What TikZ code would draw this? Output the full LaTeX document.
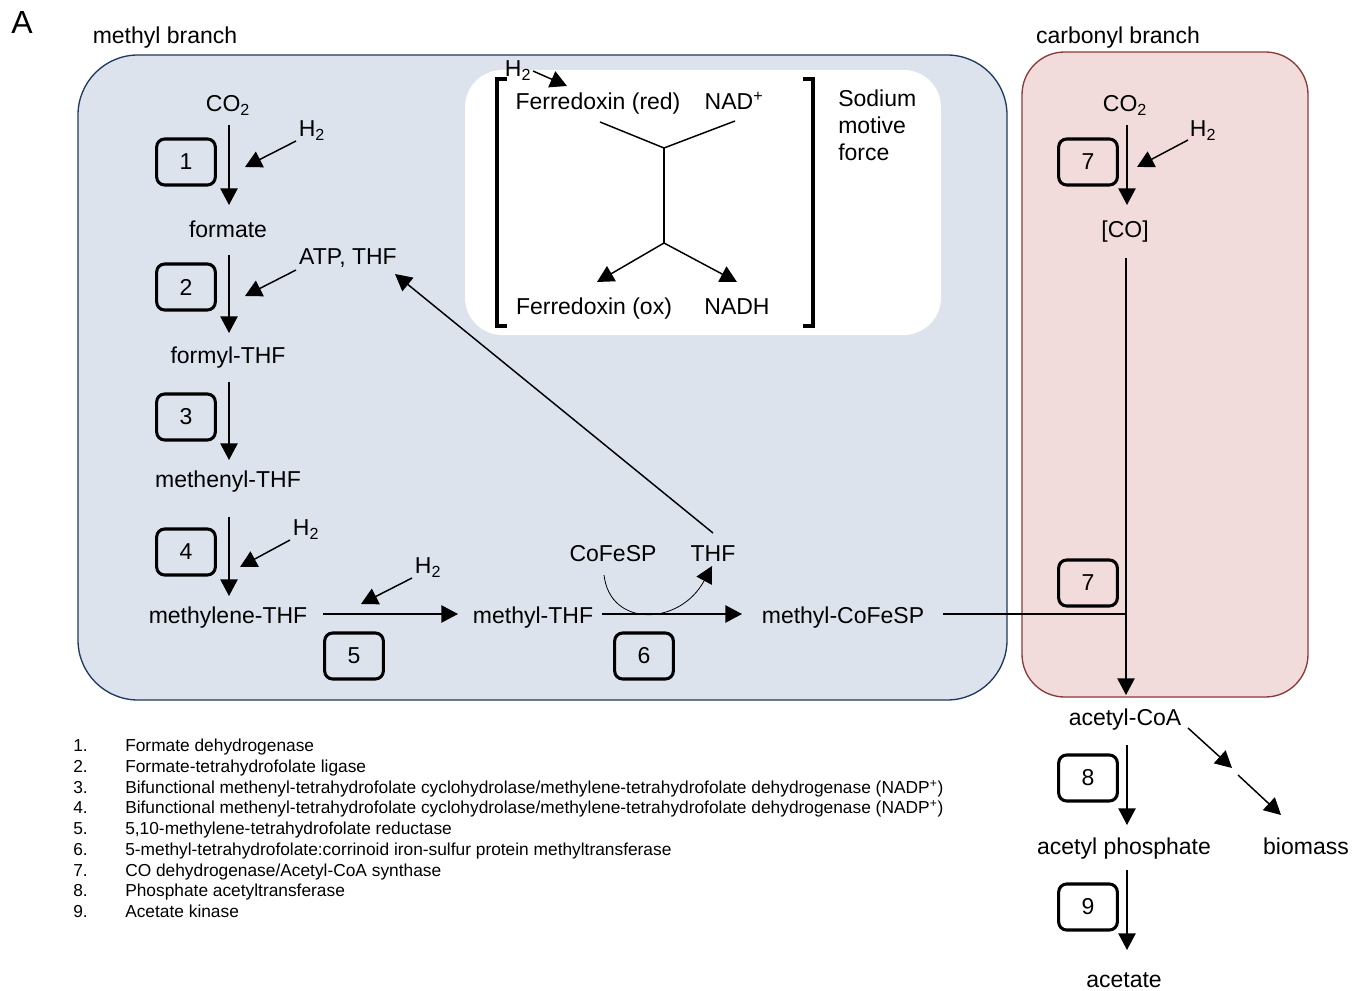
\documentclass[tikz,border=0pt]{standalone}
\usepackage{fontspec}
\setmainfont{Liberation Sans}
\usetikzlibrary{calc,arrows.meta}
\definecolor{bfill}{HTML}{DCE3EC}
\definecolor{bdraw}{HTML}{1F3A5F}
\definecolor{pfill}{HTML}{F2DCDB}
\definecolor{pdraw}{HTML}{8B3A3A}
\begin{document}
\begin{tikzpicture}[x=0.75pt,y=-0.75pt,
  txt/.style={font=\fontsize{17.25pt}{20.25pt}\selectfont, inner sep=0pt, text height=14.5pt, text depth=1.2pt},
  leg/.style={font=\fontsize{13pt}{15pt}\selectfont, inner sep=0pt, anchor=west, text height=11pt, text depth=1.2pt},
  arr/.style={-{Triangle[length=12.5pt,width=13pt]}, line width=1.1pt},
  ln/.style={line width=1.1pt},
  ebox/.style={draw, line width=2.3pt, rounded corners=6pt, minimum width=44pt, minimum height=34.5pt, inner sep=0pt, font=\fontsize{17.25pt}{20.25pt}\selectfont},
  brk/.style={line width=2.3pt}
]
\useasboundingbox (0,0) rectangle (1362,991);
% panels
\draw[fill=bfill, draw=bdraw, line width=1pt, rounded corners=45pt] (78,55) rectangle (1007,700);
\draw[fill=pfill, draw=pdraw, line width=1pt, rounded corners=32pt] (1022,52) rectangle (1308,697);
\fill[white, rounded corners=28pt] (465,70) rectangle (941,335);
% titles
\node[font=\fontsize{24pt}{26pt}\selectfont, inner sep=0pt] (lblA) at (22,22) {A};
\node[txt] (mbr) at (165,35) {methyl branch};
\node[txt] (cbr) at (1118,35) {carbonyl branch};
% methyl branch metabolites
\node[txt] (co2a) at (228,103) {CO\textsubscript{2}};
\node[txt] (formate) at (228,229) {formate};
\node[txt] (formyl) at (228,355) {formyl-THF};
\node[txt] (methenyl) at (228,479) {methenyl-THF};
\node[txt] (methylene) at (228,615) {methylene-THF};
\node[txt] (methylthf) at (533,615) {methyl-THF};
\node[txt] (mcf) at (843,615) {methyl-CoFeSP};
\node[txt] (h2a) at (312,128) {H\textsubscript{2}};
\node[txt] (atp) at (348,256) {ATP, THF};
\node[txt] (h2c) at (306,527) {H\textsubscript{2}};
\node[txt] (h2d) at (428,565) {H\textsubscript{2}};
\node[txt] (cofesp) at (613,553) {CoFeSP};
\node[txt] (thf) at (713,553) {THF};
% enzyme boxes
\node[ebox] (e1) at (186,162) {1};
\node[ebox] (e2) at (186,287) {2};
\node[ebox] (e3) at (186,417) {3};
\node[ebox] (e4) at (186,552) {4};
\node[ebox] (e5) at (354,656) {5};
\node[ebox] (e6) at (644,656) {6};
\node[ebox] (e7a) at (1088,162) {7};
\node[ebox] (e7b) at (1088,583) {7};
\node[ebox] (e8) at (1088,778) {8};
\node[ebox] (e9) at (1088,907) {9};
% methyl branch arrows
\draw[arr] ($(co2a)+(1,22)$) -- ($(formate)+(1,-24)$);
\draw[arr] ($(formate)+(1,26)$) -- ($(formyl)+(1,-22)$);
\draw[arr] ($(formyl)+(1,27)$) -- ($(methenyl)+(1,-19)$);
\draw[arr] ($(methenyl)+(1,38)$) -- ($(methylene)+(1,-19)$);
\draw[arr] ($(methylene)+(95,-1)$) -- ($(methylthf)+(-75,-1)$);
\draw[arr] ($(methylthf)+(69,-1)$) -- ($(mcf)+(-101,-1)$);
\draw[arr] ($(h2a)+(-16,13)$) -- ($(h2a)+(-67,39)$);
\draw[arr] ($(atp)+(-52,14)$) -- ($(atp)+(-103,40)$);
\draw[arr] ($(h2c)+(-16,13)$) -- ($(h2c)+(-66,40)$);
\draw[arr] ($(h2d)+(-16,13)$) -- ($(h2d)+(-67,39)$);
\draw[arr] ($(thf)+(0,-20)$) -- ($(atp)+(47,18)$);
\draw[-{Triangle[length=12.5pt,width=13pt]}, line width=0.6pt] ($(cofesp)+(-9,22)$) .. controls (610,628) and (680,626) .. ($(thf)+(-1,13)$);
% ferredoxin bifurcation
\node[txt] (h2f) at (518,68) {H\textsubscript{2}};
\node[txt] (fdred) at (598,101) {Ferredoxin (red)};
\node[txt] (nadp) at (734,101) {NAD\textsuperscript{+}};
\node[txt] (fdox) at (594,306) {Ferredoxin (ox)};
\node[txt] (nadh) at (737,306) {NADH};
\node[txt, anchor=north west, align=left, text height=, text depth=] (smf) at (838,90) {Sodium\\motive\\force};
\draw[arr] ($(h2f)+(15,3)$) -- ($(h2f)+(49,18)$);
\coordinate (yt) at (664,148);
\coordinate (yb) at (664,243);
\draw[ln] ($(fdred)+(2,21)$) -- (yt) -- ($(nadp)+(1,20)$);
\draw[ln] (yt) -- (yb);
\draw[arr] (yb) -- ($(fdox)+(3,-24)$);
\draw[arr] (yb) -- ($(nadh)+(0,-24)$);
\draw[brk] (507,79) -- (497,79) -- (497,326) -- (507,326);
\draw[brk] (803,79) -- (813,79) -- (813,326) -- (803,326);
% carbonyl branch
\node[txt] (co2b) at (1125,103) {CO\textsubscript{2}};
\node[txt] (h2e) at (1203,128) {H\textsubscript{2}};
\node[txt] (co) at (1125,229) {[CO]};
\node[txt] (acoa) at (1125,717) {acetyl-CoA};
\node[txt] (acp) at (1124,846) {acetyl phosphate};
\node[txt] (acetate) at (1124,979) {acetate};
\node[txt] (biomass) at (1306,846) {biomass};
\draw[arr] ($(co2b)+(2,22)$) -- ($(co)+(2,-24)$);
\draw[arr] ($(h2e)+(-15,12)$) -- ($(h2e)+(-66,39)$);
\coordinate (join) at (1126,614);
\draw[ln] ($(mcf)+(100,-1)$) -- (join);
\draw[arr] ($(co)+(1,29)$) -- ($(acoa)+(1,-22)$);
\draw[arr] ($(acoa)+(2,28)$) -- ($(acp)+(3,-21)$);
\draw[arr] ($(acp)+(3,24)$) -- ($(acetate)+(3,-29)$);
\draw[arr] ($(acoa)+(63,11)$) -- ($(acoa)+(107,51)$);
\draw[arr] ($(biomass)+(-68,-71)$) -- ($(biomass)+(-25,-31)$);
% legend
\node[leg] (n1) at (73,745) {1.}; \node[leg] (l1) at (125,745) {Formate dehydrogenase};
\node[leg] (n2) at (73,766) {2.}; \node[leg] (l2) at (125,766) {Formate-tetrahydrofolate ligase};
\node[leg] (n3) at (73,787) {3.}; \node[leg] (l3) at (125,787) {Bifunctional methenyl-tetrahydrofolate cyclohydrolase/methylene-tetrahydrofolate dehydrogenase (NADP\textsuperscript{+})};
\node[leg] (n4) at (73,807) {4.}; \node[leg] (l4) at (125,807) {Bifunctional methenyl-tetrahydrofolate cyclohydrolase/methylene-tetrahydrofolate dehydrogenase (NADP\textsuperscript{+})};
\node[leg] (n5) at (73,828) {5.}; \node[leg] (l5) at (125,828) {5,10-methylene-tetrahydrofolate reductase};
\node[leg] (n6) at (73,849) {6.}; \node[leg] (l6) at (125,849) {5-methyl-tetrahydrofolate:corrinoid iron-sulfur protein methyltransferase};
\node[leg] (n7) at (73,870) {7.}; \node[leg] (l7) at (125,870) {CO dehydrogenase/Acetyl-CoA synthase};
\node[leg] (n8) at (73,890) {8.}; \node[leg] (l8) at (125,890) {Phosphate acetyltransferase};
\node[leg] (n9) at (73,911) {9.}; \node[leg] (l9) at (125,911) {Acetate kinase};
\end{tikzpicture}
\end{document}
